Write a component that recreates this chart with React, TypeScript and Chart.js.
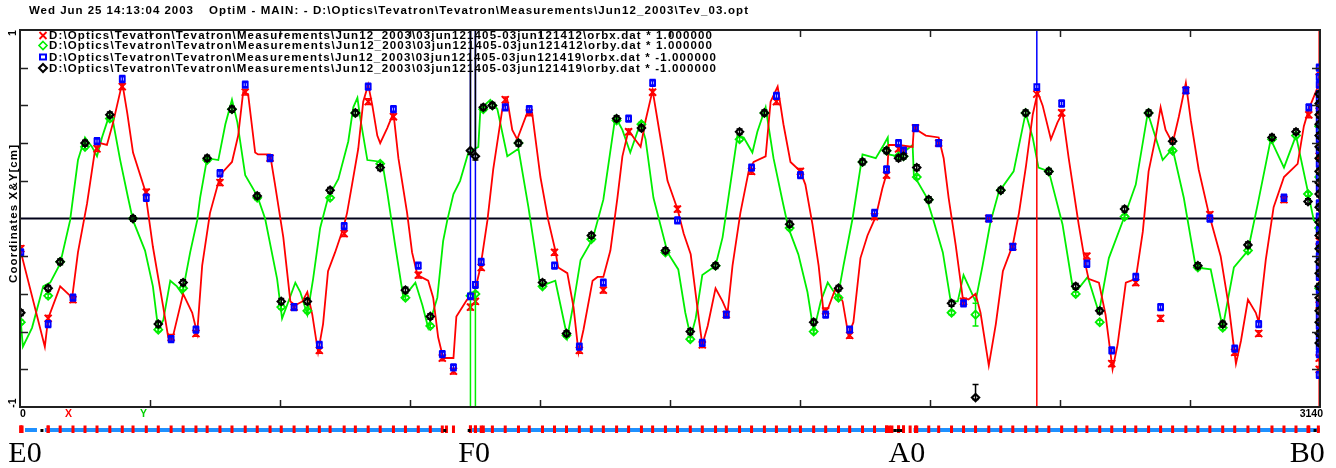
import React, { useEffect, useRef } from 'react';
import { Chart, registerables } from 'chart.js';

Chart.register(...registerables);

// ---------------- data ----------------
const xTicks = [0, 314, 628, 942, 1256, 1570, 1884, 2198, 2512, 2826, 3140];
const yTicks = [-1, -0.8, -0.6, -0.4, -0.2, 0, 0.2, 0.4, 0.6, 0.8, 1];

const titleDate = 'Wed Jun 25 14:13:04 2003';
const titleFile = 'OptiM - MAIN: - D:\\Optics\\Tevatron\\Tevatron\\Measurements\\Jun12_2003\\Tev_03.opt';
const legendLabels = [
  'D:\\Optics\\Tevatron\\Tevatron\\Measurements\\Jun12_2003\\03jun121405-03jun121412\\orbx.dat * 1.000000',
  'D:\\Optics\\Tevatron\\Tevatron\\Measurements\\Jun12_2003\\03jun121405-03jun121412\\orby.dat * 1.000000',
  'D:\\Optics\\Tevatron\\Tevatron\\Measurements\\Jun12_2003\\03jun121405-03jun121419\\orbx.dat * -1.000000',
  'D:\\Optics\\Tevatron\\Tevatron\\Measurements\\Jun12_2003\\03jun121405-03jun121419\\orby.dat * -1.000000',
];
const yAxisTitle = 'Coordinates X&Y[cm]';
const sectorNames = ['E0', 'F0', 'A0', 'B0'];
const sectorS = [12, 1097, 2142, 3109];

// computed X orbit (red line): [s, x]
const redOrbitLine: [number, number][] = [
  [0,-0.16],[60,-0.68],[68,-0.53],[97,-0.36],[126,-0.42],[140,-0.18],[162,0.08],[181,0.36],[193,0.40],[210,0.39],
  [225,0.51],[247,0.72],[259,0.56],[273,0.35],[302,0.15],[321,-0.15],[346,-0.47],[358,-0.63],[370,-0.62],[394,-0.40],
  [416,-0.50],[428,-0.61],[440,-0.25],[459,0.03],[479,0.19],[491,0.25],[512,0.30],[527,0.44],[539,0.67],[551,0.66],
  [568,0.35],[575,0.34],[604,0.34],[616,0.18],[636,-0.10],[653,-0.44],[665,-0.46],[682,-0.44],[694,-0.39],[706,-0.51],
  [720,-0.71],[732,-0.56],[744,-0.28],[761,-0.18],[781,-0.05],[790,0.03],[802,0.18],[817,0.37],[829,0.62],[841,0.71],
  [851,0.60],[863,0.44],[870,0.40],[887,0.48],[902,0.56],[914,0.32],[935,0.03],[947,-0.18],[960,-0.30],[986,-0.33],
  [998,-0.42],[1010,-0.63],[1022,-0.74],[1047,-0.74],[1054,-0.52],[1080,-0.43],[1095,-0.42],[1112,-0.26],[1129,-0.01],[1143,0.26],
  [1165,0.58],[1177,0.63],[1189,0.47],[1201,0.42],[1225,0.56],[1237,0.56],[1257,0.22],[1276,-0.01],[1293,-0.17],[1300,-0.26],
  [1322,-0.29],[1337,-0.47],[1349,-0.71],[1361,-0.59],[1383,-0.33],[1395,-0.31],[1409,-0.31],[1426,-0.17],[1443,0.11],[1455,0.33],
  [1470,0.47],[1482,0.43],[1499,0.38],[1511,0.52],[1528,0.68],[1540,0.52],[1564,0.20],[1588,0.05],[1603,-0.08],[1620,-0.19],
  [1636,-0.47],[1648,-0.67],[1661,-0.57],[1680,-0.37],[1697,-0.44],[1709,-0.50],[1721,-0.25],[1740,0.03],[1760,0.25],[1772,0.30],
  [1801,0.33],[1813,0.62],[1830,0.70],[1844,0.50],[1861,0.30],[1885,0.25],[1897,0.18],[1914,-0.03],[1929,-0.25],[1941,-0.50],
  [1953,-0.47],[1970,-0.37],[1987,-0.44],[2001,-0.62],[2013,-0.55],[2030,-0.21],[2047,-0.09],[2067,0.01],[2083,0.16],[2095,0.25],
  [2098,0.39],[2122,0.39],[2156,0.38],[2159,0.48],[2188,0.44],[2219,0.43],[2231,0.32],[2243,0.11],[2260,-0.14],[2277,-0.42],
  [2291,-0.43],[2308,-0.40],[2320,-0.50],[2340,-0.78],[2357,-0.56],[2374,-0.28],[2398,-0.14],[2413,0.03],[2430,0.28],[2446,0.55],
  [2458,0.67],[2470,0.60],[2490,0.42],[2506,0.51],[2518,0.56],[2533,0.32],[2557,-0.03],[2574,-0.25],[2581,-0.32],[2606,-0.34],
  [2622,-0.51],[2639,-0.80],[2651,-0.67],[2671,-0.34],[2695,-0.32],[2712,-0.07],[2726,0.25],[2743,0.43],[2755,0.59],[2767,0.47],
  [2784,0.40],[2799,0.54],[2816,0.72],[2828,0.52],[2847,0.26],[2871,0.03],[2900,-0.20],[2920,-0.47],[2937,-0.77],[2949,-0.65],
  [2966,-0.43],[2985,-0.50],[2992,-0.55],[3009,-0.22],[3028,0.06],[3053,0.22],[3086,0.29],[3101,0.49],[3113,0.58],[3135,0.70],
  [3140,0.80],
];

// computed Y orbit (green line): [s, y]
const greenOrbitLine: [number, number][] = [
  [0,-0.50],[7,-0.68],[29,-0.58],[56,-0.36],[73,-0.34],[97,-0.24],[121,-0.01],[140,0.31],[157,0.43],[174,0.38],
  [186,0.33],[198,0.43],[213,0.53],[225,0.51],[242,0.31],[261,0.11],[273,-0.01],[302,-0.17],[321,-0.36],[334,-0.59],
  [346,-0.54],[363,-0.33],[379,-0.36],[392,-0.40],[411,-0.18],[428,-0.01],[435,0.11],[452,0.32],[479,0.31],[496,0.50],
  [512,0.63],[525,0.51],[544,0.23],[573,0.12],[592,0.00],[621,-0.32],[633,-0.53],[645,-0.46],[665,-0.34],[677,-0.39],
  [694,-0.51],[708,-0.32],[725,-0.05],[744,0.11],[769,0.21],[793,0.41],[805,0.59],[815,0.64],[822,0.53],[839,0.31],
  [875,0.30],[887,0.14],[906,-0.14],[926,-0.42],[955,-0.34],[972,-0.46],[986,-0.58],[1008,-0.42],[1022,-0.12],[1032,-0.01],
  [1047,0.13],[1063,0.20],[1083,0.35],[1107,0.38],[1112,0.58],[1136,0.63],[1153,0.58],[1177,0.33],[1204,0.37],[1228,0.06],
  [1257,-0.36],[1293,-0.33],[1322,-0.63],[1337,-0.45],[1354,-0.22],[1383,-0.11],[1409,0.10],[1438,0.54],[1455,0.47],[1474,0.35],
  [1499,0.51],[1511,0.42],[1530,0.11],[1564,-0.18],[1590,-0.27],[1607,-0.50],[1620,-0.63],[1632,-0.53],[1648,-0.30],[1680,-0.25],
  [1697,-0.10],[1711,0.11],[1733,0.44],[1748,0.43],[1769,0.35],[1781,0.46],[1801,0.59],[1820,0.32],[1842,0.09],[1856,-0.05],
  [1880,-0.19],[1902,-0.39],[1917,-0.60],[1934,-0.44],[1951,-0.34],[1975,-0.42],[1989,-0.25],[2011,0.00],[2035,0.34],[2067,0.32],
  [2086,0.39],[2096,0.43],[2098,0.34],[2122,0.33],[2156,0.39],[2159,0.23],[2188,0.12],[2205,0.00],[2229,-0.18],[2248,-0.44],
  [2265,-0.44],[2279,-0.30],[2308,-0.44],[2325,-0.25],[2344,-0.02],[2364,0.14],[2400,0.25],[2429,0.56],[2446,0.43],[2460,0.27],
  [2485,0.25],[2518,-0.03],[2543,-0.37],[2557,-0.37],[2579,-0.31],[2606,-0.50],[2630,-0.21],[2666,0.00],[2695,0.18],[2724,0.56],
  [2743,0.43],[2760,0.31],[2784,0.37],[2811,0.11],[2840,-0.26],[2876,-0.27],[2905,-0.58],[2932,-0.26],[2966,-0.17],[2990,0.08],
  [3021,0.42],[3053,0.27],[3082,0.44],[3111,0.14],[3125,-0.01],[3135,-0.03],
];

// horizontal BPMs: [s, orbx 1412, orbx 1419 * -1]
const xBpm: [number, number, number][] = [
  [2,-0.16,-0.18],[68,-0.53,-0.56],[128,-0.43,-0.42],[186,0.37,0.41],[247,0.70,0.74],[305,0.14,0.11],[365,-0.63,-0.64],
  [425,-0.61,-0.59],[483,0.19,0.24],[544,0.67,0.71],[604,0.32,0.32],[662,-0.47,-0.47],[723,-0.70,-0.67],[783,-0.08,-0.04],
  [841,0.62,0.70],[902,0.54,0.58],[962,-0.30,-0.25],[1020,-0.74,-0.72],[1047,-0.81,-0.79],[1088,-0.47,-0.41],[1100,-0.44,-0.35],
  [1114,-0.26,-0.23],[1172,0.63,0.59],[1230,0.56,0.58],[1291,-0.18,-0.25],[1351,-0.70,-0.68],[1409,-0.38,-0.34],[1470,0.46,0.53],
  [1528,0.67,0.72],[1588,0.05,-0.01],[1648,-0.67,-0.66],[1706,-0.51,-0.51],[1767,0.25,0.27],[1827,0.62,0.65],[1885,0.25,0.23],
  [1946,-0.49,-0.51],[2004,-0.62,-0.59],[2064,0.01,0.03],[2093,0.23,0.26],[2122,0.37,0.40],[2134,0.36,0.36],[2163,0.48,0.48],
  [2219,0.40,0.40],[2279,-0.44,-0.45],[2340,0.00,0.00],[2398,-0.15,-0.15],[2456,0.66,0.70],[2516,0.56,0.61],[2577,-0.20,-0.24],
  [2637,-0.77,-0.70],[2695,-0.34,-0.31],[2755,-0.53,-0.47],[2816,0.68,0.68],[2874,0.02,0.00],[2934,-0.71,-0.69],[2992,-0.61,-0.56],
  [3053,0.10,0.11],[3113,0.55,0.59],
];

// vertical BPMs: [s, orby 1412, orby 1419 * -1]
const yBpm: [number, number, number][] = [
  [2,-0.55,-0.50],[68,-0.41,-0.37],[97,-0.23,-0.23],[157,0.38,0.40],[217,0.53,0.55],[273,0.00,0.00],[334,-0.59,-0.56],
  [394,-0.37,-0.34],[452,0.31,0.32],[512,0.58,0.58],[573,0.11,0.12],[631,-0.47,-0.44],[694,-0.49,-0.44],[749,0.11,0.15],
  [810,0.56,0.56],[870,0.29,0.27],[931,-0.42,-0.38],[991,-0.57,-0.52],[1088,-0.41,0.36],[1100,-0.40,0.33],[1119,0.58,0.59],
  [1141,0.60,0.60],[1204,0.40,0.40],[1262,-0.36,-0.34],[1320,-0.62,-0.61],[1380,-0.11,-0.09],[1441,0.52,0.53],[1501,0.50,0.48],
  [1559,-0.18,-0.17],[1619,-0.64,-0.60],[1680,-0.25,-0.25],[1738,0.42,0.46],[1798,0.56,0.56],[1859,-0.05,-0.03],[1917,-0.60,-0.55],
  [1977,-0.42,-0.37],[2035,0.30,0.30],[2093,0.36,0.36],[2122,0.33,0.32],[2134,0.33,0.33],[2166,0.22,0.27],[2195,0.10,0.10],
  [2250,-0.50,-0.45],[2308,-0.51,-0.95],[2369,0.15,0.15],[2429,0.56,0.56],[2485,0.25,0.25],[2550,-0.40,-0.36],[2608,-0.55,-0.49],
  [2668,0.01,0.05],[2726,0.56,0.56],[2784,0.36,0.41],[2845,-0.26,-0.25],[2905,-0.58,-0.56],[2966,-0.17,-0.14],[3024,0.42,0.43],
  [3082,0.44,0.46],[3111,0.13,0.09],
];

// dense stack of readings drawn at the end of the range
const endClusterS = 3138;
const endRed = [0.78, 0.57, 0.33, -0.12, -0.46, -0.74, -0.80];
const endBlue = [0.80, 0.75, 0.71, 0.66, 0.63, 0.58, 0.52, 0.47, 0.42, 0.36, 0.29, 0.22, 0.16, 0.08, 0.01, -0.06, -0.14, -0.20, -0.26, -0.31, -0.38, -0.45, -0.52, -0.57, -0.63, -0.68, -0.72, -0.83];
const endGreen = [0.49, 0.22, -0.05, -0.37];
const endBlack = [0.66, 0.61, 0.55, 0.50, 0.44, 0.38, 0.32, 0.25, 0.19, 0.13, 0.06, -0.02, -0.09, -0.16, -0.23, -0.29, -0.36, -0.42, -0.49, -0.55, -0.61, -0.66];

// error bars: default half-widths and special ones [s, value, low, high]
const defaultErr = { red: 0.015, green: 0.01, blue: 0.018, black: 0.015 };
const redSpecialErr: [number, number, number, number][] = [[2456, 0.66, 1.8, 0.02], [3138, 0.78, 1.9, 0.3]];
const blueSpecialErr: [number, number, number, number][] = [[1088, -0.41, 0.02, 1.5], [1100, -0.35, 0.02, 1.5], [2456, 0.70, 0.02, 0.4]];
const greenSpecialErr: [number, number, number, number][] = [[1088, -0.41, 0.7, 0.01], [1100, -0.40, 0.7, 0.01], [2308, -0.51, 0.06, 0.06]];
const blackSpecialErr: [number, number, number, number][] = [[1088, 0.36, 0.02, 0.7], [1100, 0.33, 0.02, 0.7], [2308, -0.95, 0.01, 0.07]];

// lattice strip under the plot
const stripBands: [number, number][] = [[12, 41], [60, 1022], [1092, 2091], [2158, 3140]];
const stripExtraQuads = [5, 1030, 2100, 2106, 2150, 3136];
const stripBlack = [53, 1026, 1085, 2113, 2120, 2127, 3128];

// ---------------- helpers ----------------
const RED = '#ff0000';
const GREEN = '#00ee00';
const BLUE = '#0000ff';
const BLACK = '#000000';
const TEXT_FONT = 'bold 11.5px "Liberation Sans"';

function fitText(ctx: CanvasRenderingContext2D, text: string, x: number, y: number, width: number, font: string) {
  const c: any = ctx;
  ctx.font = font;
  if ('letterSpacing' in c) c.letterSpacing = '0px';
  const w = ctx.measureText(text).width;
  ctx.textAlign = 'left';
  if ('letterSpacing' in c) {
    c.letterSpacing = (width - w) / Math.max(1, text.length - 1) + 'px';
    ctx.fillText(text, x, y);
    c.letterSpacing = '0px';
  } else {
    ctx.save();
    ctx.translate(x, y);
    ctx.scale(width / w, 1);
    ctx.fillText(text, 0, 0);
    ctx.restore();
  }
}

function marker(ctx: CanvasRenderingContext2D, kind: string, x: number, y: number, color: string) {
  ctx.save();
  ctx.strokeStyle = color;
  ctx.beginPath();
  if (kind === 'x') {
    ctx.lineWidth = 1.8;
    ctx.moveTo(x - 3.5, y - 3.5); ctx.lineTo(x + 3.5, y + 3.5);
    ctx.moveTo(x + 3.5, y - 3.5); ctx.lineTo(x - 3.5, y + 3.5);
  } else if (kind === 'd') {
    ctx.lineWidth = color === BLACK ? 2 : 1.6;
    ctx.moveTo(x, y - 4); ctx.lineTo(x + 4, y); ctx.lineTo(x, y + 4); ctx.lineTo(x - 4, y); ctx.closePath();
  } else {
    ctx.lineWidth = 2;
    ctx.rect(x - 3, y - 2.5, 6, 5);
  }
  ctx.stroke();
  ctx.restore();
}

const toPts = (arr: [number, number][]) => arr.map(([s, v]) => ({ x: s, y: v }));

export default function App() {
  const ref = useRef<HTMLCanvasElement>(null);

  useEffect(() => {
    const canvas = ref.current;
    if (!canvas) return;

    const redPts = [...xBpm.map(([s, r]) => ({ x: s, y: r })), ...endRed.map((v) => ({ x: endClusterS, y: v }))];
    const bluePts = [...xBpm.map(([s, , b]) => ({ x: s, y: b })), ...endBlue.map((v) => ({ x: endClusterS, y: v }))];
    const greenPts = [...yBpm.map(([s, g]) => ({ x: s, y: g })), ...endGreen.map((v) => ({ x: endClusterS, y: v }))];
    const blackPts = [...yBpm.map(([s, , k]) => ({ x: s, y: k })), ...endBlack.map((v) => ({ x: endClusterS, y: v }))];

    const datasets: any[] = [
      { label: 'black', data: blackPts, pointStyle: 'rectRot', pointRadius: 3.6, borderWidth: 2.2, borderColor: BLACK, backgroundColor: 'rgba(0,0,0,0)', order: 1 },
      { label: 'blue', data: bluePts, pointStyle: 'rect', pointRadius: 3.4, borderWidth: 2, borderColor: BLUE, backgroundColor: 'rgba(0,0,0,0)', order: 2 },
      { label: 'green', data: greenPts, pointStyle: 'rectRot', pointRadius: 4, borderWidth: 1.8, borderColor: GREEN, backgroundColor: 'rgba(0,0,0,0)', order: 3 },
      { label: 'red', data: redPts, pointStyle: 'crossRot', pointRadius: 5, borderWidth: 1.8, borderColor: RED, backgroundColor: RED, order: 4 },
      { label: 'xline', data: toPts(redOrbitLine), showLine: true, pointRadius: 0, borderWidth: 1.8, borderColor: RED, backgroundColor: RED, order: 10 },
      { label: 'yline', data: toPts(greenOrbitLine), showLine: true, pointRadius: 0, borderWidth: 1.8, borderColor: GREEN, backgroundColor: GREEN, order: 11 },
    ];

    const errSpec: Record<number, { color: string; def: number; special: [number, number, number, number][] }> = {
      0: { color: BLACK, def: defaultErr.black, special: blackSpecialErr },
      1: { color: BLUE, def: defaultErr.blue, special: blueSpecialErr },
      2: { color: GREEN, def: defaultErr.green, special: greenSpecialErr },
      3: { color: RED, def: defaultErr.red, special: redSpecialErr },
    };

    const overlay = {
      id: 'overlay',
      beforeDatasetsDraw(chart: any) {
        const { ctx, chartArea: a, scales } = chart;
        const y0 = scales.y.getPixelForValue(0);
        ctx.save();
        ctx.strokeStyle = '#000018';
        ctx.lineWidth = 2;
        ctx.beginPath();
        ctx.moveTo(a.left, y0);
        ctx.lineTo(a.right, y0);
        ctx.stroke();
        ctx.restore();
      },
      beforeDatasetDraw(chart: any, args: any) {
        const spec = errSpec[args.index];
        if (!spec) return;
        const { ctx, chartArea: a, scales } = chart;
        const ds = chart.data.datasets[args.index];
        ctx.save();
        ctx.beginPath();
        ctx.rect(a.left - 1, a.top - 1, a.right - a.left + 2, a.bottom - a.top + 2);
        ctx.clip();
        ctx.strokeStyle = spec.color;
        ctx.lineWidth = 1.5;
        ds.data.forEach((p: any, i: number) => {
          let lo = spec.def, hi = spec.def;
          const sp = spec.special.find((e) => e[0] === p.x && Math.abs(e[1] - p.y) < 1e-6);
          if (sp) { lo = sp[2]; hi = sp[3]; }
          const el = args.meta.data[i];
          const px = el.x;
          const yl = scales.y.getPixelForValue(p.y - lo);
          const yh = scales.y.getPixelForValue(p.y + hi);
          ctx.beginPath();
          ctx.moveTo(px, yl); ctx.lineTo(px, yh);
          ctx.moveTo(px - 3, yl); ctx.lineTo(px + 3, yl);
          ctx.moveTo(px - 3, yh); ctx.lineTo(px + 3, yh);
          ctx.stroke();
        });
        ctx.restore();
      },
      afterDatasetsDraw(chart: any) {
        const { ctx, chartArea: a, scales } = chart;
        const xs = scales.x, ys = scales.y;
        ctx.save();
        // frame
        ctx.strokeStyle = '#202020';
        ctx.lineWidth = 2;
        ctx.strokeRect(a.left, a.top, a.right - a.left, a.bottom - a.top);
        // ticks
        ctx.lineWidth = 1.5;
        ctx.beginPath();
        xs.ticks.forEach((t: any) => {
          if (t.value <= xs.min || t.value >= xs.max) return;
          const px = Math.round(xs.getPixelForValue(t.value)) + 0.5;
          ctx.moveTo(px, a.bottom); ctx.lineTo(px, a.bottom - 7);
          ctx.moveTo(px, a.top); ctx.lineTo(px, a.top + 7);
        });
        ys.ticks.forEach((t: any) => {
          if (t.value <= ys.min || t.value >= ys.max || t.value === 0) return;
          const py = Math.round(ys.getPixelForValue(t.value)) + 0.5;
          ctx.moveTo(a.left, py); ctx.lineTo(a.left + 8, py);
          ctx.moveTo(a.right, py); ctx.lineTo(a.right - 8, py);
        });
        ctx.stroke();

        // tick labels
        ctx.fillStyle = '#000';
        ctx.textBaseline = 'middle';
        ctx.font = 'bold 10.5px "Liberation Sans"';
        const yTop = ys.getPixelForValue(ys.max);
        const yBot = ys.getPixelForValue(ys.min);
        [[String(ys.max), yTop + 3], [String(ys.min), yBot - 4]].forEach(([txt, py]) => {
          ctx.save();
          ctx.translate(13.5, py as number);
          ctx.rotate(-Math.PI / 2);
          ctx.textAlign = 'center';
          ctx.fillText(txt as string, 0, 0);
          ctx.restore();
        });
        ctx.textAlign = 'left';
        ctx.fillText(String(xs.min), a.left, 414.5);
        ctx.textAlign = 'right';
        ctx.fillText(String(xs.max), a.right + 3, 414.5);
        ctx.textAlign = 'center';
        ctx.fillStyle = RED;
        ctx.fillText('X', 68.5, 414.5);
        ctx.fillStyle = '#00d000';
        ctx.fillText('Y', 143.5, 414.5);

        // y axis title
        ctx.fillStyle = '#000';
        ctx.save();
        ctx.translate(14, 214 + 69);
        ctx.rotate(-Math.PI / 2);
        fitText(ctx, yAxisTitle, 0, 0, 138, TEXT_FONT);
        ctx.restore();

        // title
        ctx.fillStyle = '#000';
        ctx.textBaseline = 'middle';
        fitText(ctx, titleDate, 29, 10.5, 164, TEXT_FONT);
        fitText(ctx, titleFile, 209, 10.5, 539, TEXT_FONT);

        // legend
        const rows = [35.5, 45.5, 57, 68];
        const kinds: [string, string][] = [['x', RED], ['d', GREEN], ['s', BLUE], ['d', BLACK]];
        const widths = [663, 663, 667, 667];
        legendLabels.forEach((lab, i) => {
          marker(ctx, kinds[i][0], 43, rows[i], kinds[i][1]);
          ctx.fillStyle = '#000';
          fitText(ctx, lab, 49, rows[i] + 0.5, widths[i], TEXT_FONT);
        });

        // lattice strip
        ctx.fillStyle = '#1e90ff';
        stripBands.forEach(([s0, s1]) => {
          const x0 = xs.getPixelForValue(s0), x1 = xs.getPixelForValue(s1);
          ctx.fillRect(x0, 428, x1 - x0, 4);
        });
        ctx.fillStyle = RED;
        const quadS = [...xBpm.map((b) => b[0]), ...yBpm.map((b) => b[0]), ...stripExtraQuads];
        quadS.forEach((s) => {
          const px = xs.getPixelForValue(s);
          ctx.fillRect(px - 1.5, 425.5, 3, 7.5);
        });
        ctx.fillStyle = BLACK;
        stripBlack.forEach((s) => {
          const px = xs.getPixelForValue(s);
          ctx.fillRect(px - 1.5, 429, 3, 3);
        });

        // sector labels
        ctx.fillStyle = '#000';
        ctx.font = '30px "Liberation Serif"';
        ctx.textAlign = 'center';
        ctx.textBaseline = 'alphabetic';
        sectorNames.forEach((n, i) => {
          ctx.fillText(n, xs.getPixelForValue(sectorS[i]), 462);
        });
        ctx.restore();
      },
    };

    const chart = new Chart(canvas, {
      type: 'scatter',
      data: { datasets },
      options: {
        responsive: false,
        animation: false,
        devicePixelRatio: 1,
        events: [],
        layout: { padding: { left: 20, right: 16, top: 30, bottom: 61 } },
        plugins: { legend: { display: false }, tooltip: { enabled: false } },
        scales: {
          x: {
            type: 'linear', min: 0, max: 3140, display: false,
            afterBuildTicks: (s: any) => { s.ticks = xTicks.map((v) => ({ value: v })); },
          },
          y: {
            type: 'linear', min: -1, max: 1, display: false,
            afterBuildTicks: (s: any) => { s.ticks = yTicks.map((v) => ({ value: v })); },
          },
        },
      } as any,
      plugins: [overlay],
    });
    return () => chart.destroy();
  }, []);

  return (
    <div style={{ position: 'absolute', left: 0, top: 0, width: 1336, height: 468, background: '#fff' }}>
      <canvas ref={ref} width={1336} height={468} style={{ display: 'block', width: 1336, height: 468 }} />
    </div>
  );
}
